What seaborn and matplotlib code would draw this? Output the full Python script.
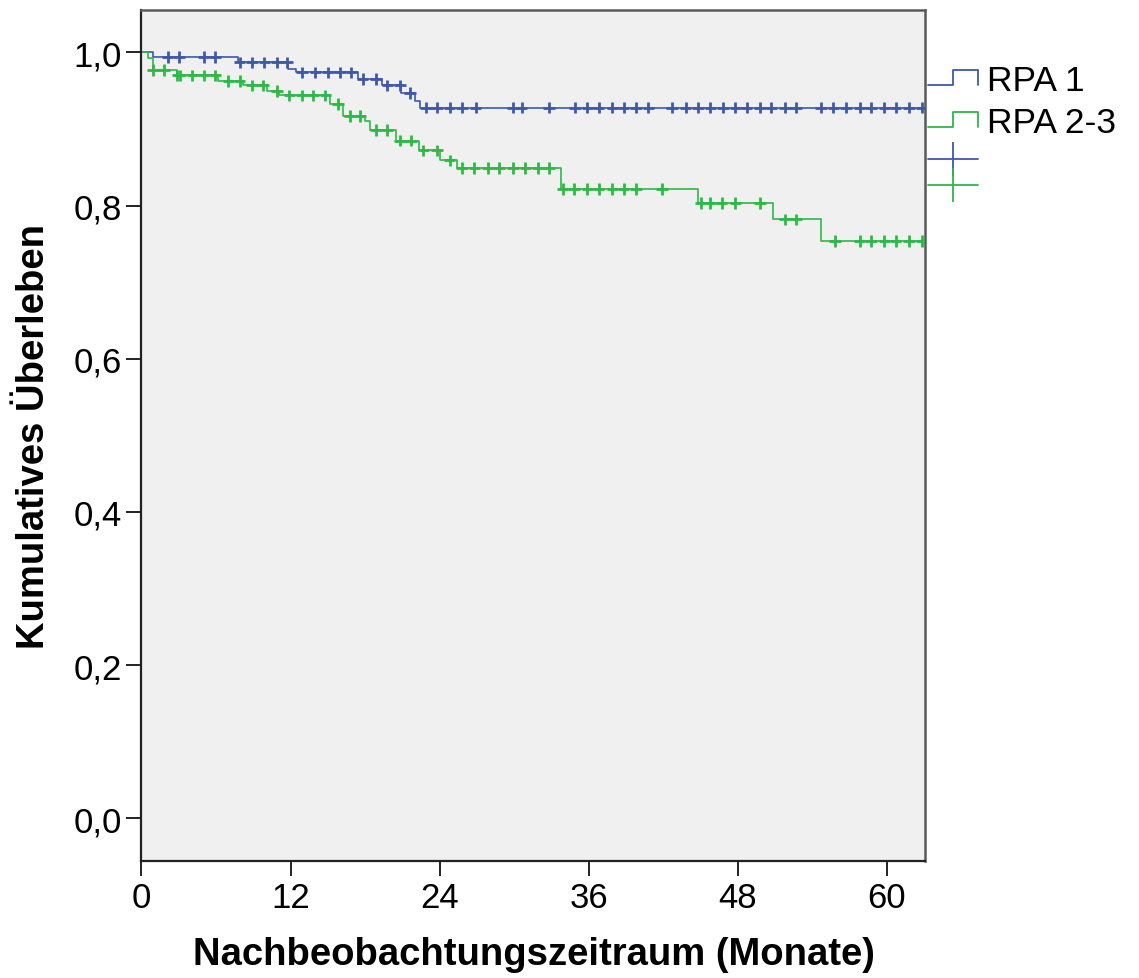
import numpy as np
import pandas as pd
import matplotlib
matplotlib.use("Agg")
import matplotlib.pyplot as plt
import seaborn as sns
from matplotlib.lines import Line2D
from matplotlib.legend_handler import HandlerBase

# ---------------- data ----------------
groups = ["RPA 1", "RPA 2-3"]
colors = ["#3E58AC", "#2EB848"]

rpa1_event_times = [0.9, 7.8, 11.8, 12.4, 17.4, 19.4, 20.9, 22.0, 22.4]
rpa1_survival = [0.994, 0.987, 0.979, 0.974, 0.965, 0.957, 0.947, 0.937, 0.928]
rpa1_censor_times = [2.1, 3.0, 5.0, 5.9, 7.9, 8.9, 9.9, 10.9, 11.7, 12.9, 14.0, 15.0,
                     16.0, 16.9, 17.8, 18.9, 19.8, 20.8, 21.6, 22.9, 23.8, 24.8, 25.8,
                     26.9, 29.9, 30.6, 32.8, 34.9, 35.9, 36.8, 37.9, 38.8, 39.8, 40.8,
                     42.7, 43.8, 44.8, 45.8, 46.8, 47.8, 48.7, 49.8, 50.7, 51.8, 52.7,
                     54.7, 55.7, 56.7, 57.8, 58.7, 59.8, 60.7, 61.8, 62.8]

rpa23_event_times = [0.5, 0.9, 2.9, 6.2, 8.2, 10.1, 11.1, 15.2, 16.2, 18.0, 18.4, 20.5,
                     22.3, 24.0, 25.4, 33.8, 44.8, 50.8, 54.7]
rpa23_survival = [0.993, 0.977, 0.970, 0.963, 0.957, 0.950, 0.944, 0.933, 0.917, 0.911,
                  0.899, 0.885, 0.872, 0.859, 0.849, 0.822, 0.803, 0.782, 0.754]
rpa23_censor_times = [0.95, 1.8, 2.9, 3.1, 4.1, 5.0, 5.9, 7.0, 7.9, 8.9, 9.8, 10.9, 11.9,
                      12.9, 13.8, 14.8, 15.8, 16.8, 17.6, 18.9, 19.8, 20.8, 21.7, 22.7,
                      23.8, 24.8, 25.8, 26.8, 27.9, 28.8, 29.9, 30.9, 31.9, 32.8, 33.9,
                      34.8, 35.9, 36.8, 37.9, 38.8, 39.8, 41.9, 45.0, 45.8, 46.7, 47.8,
                      49.8, 51.8, 52.7, 55.8, 57.8, 58.7, 59.8, 60.7, 61.8, 62.8]

xtick_values = [0, 12, 24, 36, 48, 60]
xtick_labels = ["0", "12", "24", "36", "48", "60"]
ytick_values = [0.0, 0.2, 0.4, 0.6, 0.8, 1.0]
ytick_labels = ["0,0", "0,2", "0,4", "0,6", "0,8", "1,0"]

x_label = "Nachbeobachtungszeitraum (Monate)"
y_label = "Kumulatives Überleben"

# ---------------- build tables ----------------
def step_table(group, times, surv, end):
    t = [0.0] + list(times) + [end]
    s = [1.0] + list(surv) + [surv[-1]]
    return pd.DataFrame({"time": t, "surv": s, "group": group})

def censor_table(group, times, surv, ctimes):
    times = np.asarray(times)
    idx = np.searchsorted(times, ctimes, side="right") - 1
    ys = [1.0 if i < 0 else surv[i] for i in idx]
    return pd.DataFrame({"time": ctimes, "surv": ys, "group": group})

end_time = 63.1
lines_df = pd.concat([
    step_table(groups[0], rpa1_event_times, rpa1_survival, max(rpa1_censor_times)),
    step_table(groups[1], rpa23_event_times, rpa23_survival, max(rpa23_censor_times)),
], ignore_index=True)
cens_df = pd.concat([
    censor_table(groups[0], rpa1_event_times, rpa1_survival, rpa1_censor_times),
    censor_table(groups[1], rpa23_event_times, rpa23_survival, rpa23_censor_times),
], ignore_index=True)

# ---------------- style ----------------
sns.set_style("white", rc={"text.color": "black", "axes.labelcolor": "black",
                           "xtick.color": "black", "ytick.color": "black"})
plt.rcParams["font.family"] = ["Liberation Sans", "DejaVu Sans"]

fig = plt.figure(figsize=(11.39, 9.79), dpi=100)
ax = fig.add_axes([0.1242, 0.1190, 0.6883, 0.8693])
ax.set_facecolor("#F0F0F0")

palette = dict(zip(groups, colors))
sns.lineplot(data=lines_df, x="time", y="surv", hue="group", palette=palette,
             estimator=None, sort=False, drawstyle="steps-post", linewidth=1.2,
             legend=False, ax=ax)
sns.scatterplot(data=cens_df, x="time", y="surv", hue="group", palette=palette,
                marker="+", s=70, linewidth=2.0, legend=False, ax=ax, zorder=3)

ax.set_xlim(0, end_time)
ax.set_ylim(-0.0564, 1.0548)
ax.set_xticks(xtick_values)
ax.set_xticklabels(xtick_labels)
ax.set_yticks(ytick_values)
ax.set_yticklabels(ytick_labels)
ax.tick_params(axis="both", which="major", length=11, width=1.4, color="#222222",
               labelsize=25, labelcolor="black", pad=3, direction="out",
               left=True, bottom=True)
ax.set_xlabel(x_label, fontsize=27.5, fontweight="bold", labelpad=16)
ax.set_ylabel(y_label, fontsize=27.5, fontweight="bold", labelpad=15.5)

for side in ["left", "bottom"]:
    ax.spines[side].set_color("#222222")
    ax.spines[side].set_linewidth(1.6)
for side in ["top", "right"]:
    ax.spines[side].set_color("#5a5a5a")
    ax.spines[side].set_linewidth(1.8)
    ax.spines[side].set_visible(True)


# ---------------- legend ----------------
class StepHandler(HandlerBase):
    def create_artists(self, legend, orig_handle, xdescent, ydescent, width, height,
                       fontsize, trans):
        x0, y0 = -xdescent, -ydescent
        lo, hi = y0 + 0.2 * height, y0 + 0.8 * height
        xs = [x0, x0 + width / 2, x0 + width / 2, x0 + width, x0 + width]
        ys = [lo, lo, hi, hi, lo]
        ln = Line2D(xs, ys, color=orig_handle.get_color(), lw=orig_handle.get_linewidth(),
                    transform=trans)
        return [ln]

step_handles = [Line2D([], [], color=c, lw=1.3) for c in colors]
leg1 = fig.legend(handles=step_handles, labels=groups,
                  handler_map={Line2D: StepHandler()},
                  loc="upper left", bbox_to_anchor=(0.8147, 0.9333),
                  bbox_transform=fig.transFigure, frameon=False, fontsize=25.5,
                  handlelength=1.41, handletextpad=0.25, labelspacing=0.25,
                  borderpad=0, borderaxespad=0, handleheight=0.7)

cross_handles = [Line2D([], [], color=c, lw=1.3, marker="|", markersize=25,
                        markeredgewidth=1.3) for c in colors]
leg2 = fig.legend(handles=cross_handles, labels=["", ""],
                  loc="upper left", bbox_to_anchor=(0.8147, 0.8452),
                  bbox_transform=fig.transFigure, frameon=False, fontsize=16,
                  handlelength=2.25, handletextpad=0.0, labelspacing=0.25,
                  borderpad=0, borderaxespad=0, numpoints=1)

fig.savefig("out.png", dpi=100, facecolor="white")
